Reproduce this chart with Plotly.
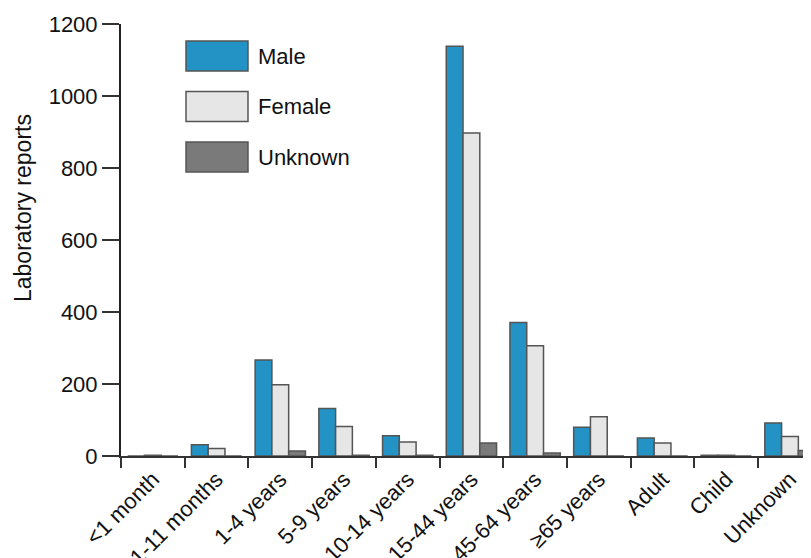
import plotly.graph_objects as go

categories = ["<1 month", "1-11 months", "1-4 years", "5-9 years", "10-14 years",
              "15-44 years", "45-64 years", "≥65 years", "Adult", "Child", "Unknown"]
male = [0, 31, 267, 132, 56, 1138, 371, 80, 50, 2, 92]
female = [2, 21, 198, 82, 39, 897, 306, 109, 36, 2, 54]
unknown = [0, 0, 14, 2, 2, 36, 8, 0, 0, 0, 15]

series_names = ["Male", "Female", "Unknown"]
series_values = [male, female, unknown]
series_colors = ["#2293c4", "#e6e6e6", "#7a7a7a"]
y_ticks = [0, 200, 400, 600, 800, 1000, 1200]

FONT = "Liberation Sans, Arial, Helvetica, sans-serif"
INK = "#111111"

fig = go.Figure()
for name, vals, col in zip(series_names, series_values, series_colors):
    fig.add_trace(go.Bar(
        x=categories, y=vals, name=name,
        marker=dict(color=col, line=dict(color="#555555", width=1.5)),
        showlegend=False,
    ))

# page body has an 8px margin; size the figure so it fills the 811x558 window
OFF = 8
W, H = 811 - OFF, 558 - OFF
ml = 121 - OFF
mt = 24 - OFF
mb = H - (456 - OFF)

plot_w = W - ml
plot_h = H - mt - mb
def px_x(px):  # screen pixel -> paper x
    return (px - OFF - ml) / plot_w
def px_y(py):  # screen pixel -> paper y
    return (H - mb - (py - OFF)) / plot_h

shapes = []
annotations = []
for i, (name, col) in enumerate(zip(series_names, series_colors)):
    top = 41 + i * 50.5
    shapes.append(dict(type="rect", xref="paper", yref="paper",
                       x0=px_x(186), x1=px_x(248), y0=px_y(top + 30), y1=px_y(top),
                       fillcolor=col, line=dict(color="#555555", width=1.5)))
    annotations.append(dict(text=name, xref="paper", yref="paper",
                            x=px_x(256), y=px_y(top + 15), xanchor="left", yanchor="middle",
                            showarrow=False, font=dict(family=FONT, size=22, color=INK)))

annotations.append(dict(text="Laboratory reports", xref="paper", yref="paper",
                        x=px_x(23), y=px_y(208), xanchor="center", yanchor="middle",
                        textangle=-90, showarrow=False,
                        font=dict(family=FONT, size=23, color=INK)))

fig.update_layout(
    width=W, height=H,
    margin=dict(l=ml, r=0, t=mt, b=mb, pad=0, autoexpand=False),
    paper_bgcolor="white", plot_bgcolor="white",
    barmode="group", bargap=0.21, bargroupgap=0,
    font=dict(family=FONT, size=22, color=INK),
    shapes=shapes, annotations=annotations,
    xaxis=dict(
        type="category", range=[-0.5, 10.33], automargin=False,
        showline=True, linecolor="#333333", linewidth=1.5,
        ticks="outside", tickson="boundaries", ticklen=10, tickwidth=1.5, tickcolor="#333333",
        tickangle=-45, tickfont=dict(family=FONT, size=22, color=INK),
        showgrid=False, zeroline=False,
    ),
    yaxis=dict(
        range=[0, 1200], tickvals=y_ticks, automargin=False,
        showline=True, linecolor="#222222", linewidth=2,
        ticks="outside", ticklen=17, tickwidth=1.5, tickcolor="#333333",
        tickfont=dict(family=FONT, size=22, color=INK),
        showgrid=False, zeroline=False,
    ),
)

fig.write_html("out.html")
